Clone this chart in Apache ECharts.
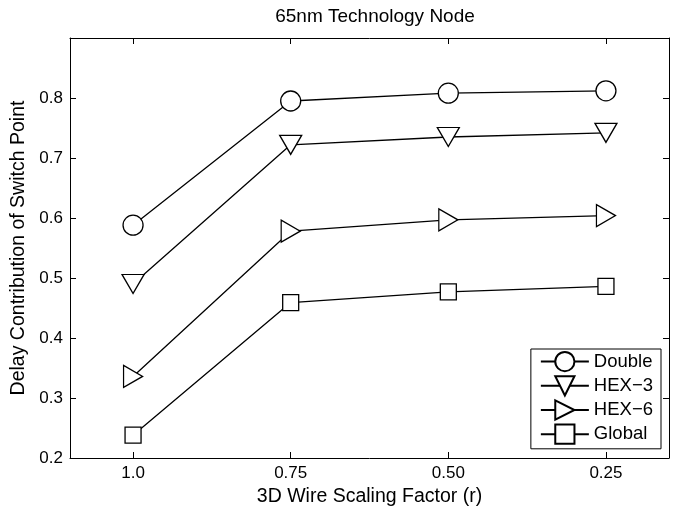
<!DOCTYPE html>
<html><head><meta charset="utf-8">
<script src="https://cdn.jsdelivr.net/npm/echarts@6/dist/echarts.min.js"></script>
<style>html,body{margin:0;padding:0;background:#fff}#c{width:678px;height:507px}</style>
</head><body><div id="c"></div>
<script>
const categories = ['1.0', '0.75', '0.50', '0.25'];
const xPositions = [1, 2, 3, 4];
const seriesNames = ['Double', 'HEX\u22123', 'HEX\u22126', 'Global'];
const doubleVals = [0.588, 0.795, 0.808, 0.812];
const hex3Vals = [0.49, 0.722, 0.735, 0.742];
const hex6Vals = [0.336, 0.578, 0.597, 0.604];
const globalVals = [0.238, 0.459, 0.477, 0.486];

const FONT = 'Liberation Sans';
const X_MIN = 0.6, X_MAX = 4.4, STEP = 0.2;
// fine grid used only to place the tick marks at the category positions
const tickGrid = [];
for (let k = 0; k <= Math.round((X_MAX - X_MIN) / STEP); k++) tickGrid.push((X_MIN + k * STEP).toFixed(1));
const isCatTick = (idx, v) => xPositions.some(p => Math.abs(Number(v) - p) < 1e-6);

const symbols = ['circle', 'path://M0,0L22,0L11,19Z', 'path://M0,0L19,11L0,22Z', 'rect'];
const sizes = [20, [22, 19], [19, 22], 16];
const allVals = [doubleVals, hex3Vals, hex6Vals, globalVals];

const series = seriesNames.map((n, i) => ({
  name: n, type: 'line', xAxisIndex: 0, yAxisIndex: 0,
  data: xPositions.map((x, j) => [x, allVals[i][j]]),
  symbol: symbols[i], symbolSize: sizes[i], showAllSymbol: true,
  lineStyle: { color: '#000', width: 1.3 },
  itemStyle: { color: '#fff', borderColor: '#000', borderWidth: 1.3 },
  emphasis: { disabled: true }, animation: false, z: 3
}));

const tickStyle = { color: '#000', width: 1 };
const lineStyle = { color: '#000', width: 1 };
const chart = echarts.init(document.getElementById('c'));
chart.setOption({
  backgroundColor: '#fff',
  animation: false,
  title: { text: '65nm Technology Node', left: 370, textAlign: 'center', top: 2,
    textStyle: { fontFamily: FONT, fontSize: 19, fontWeight: 'normal', color: '#000' } },
  grid: { left: 70, right: 9, top: 38, bottom: 49, outerBoundsMode: 'none', containLabel: false },
  legend: {
    orient: 'vertical', right: 17, top: 349,
    data: seriesNames,
    itemWidth: 48, itemHeight: 24, itemGap: 3,
    padding: [2, 8, 4, 9],
    borderColor: '#000', borderWidth: 1, backgroundColor: '#fff',
    textStyle: { fontFamily: FONT, fontSize: 18.5, color: '#000' },
    selectedMode: false
  },
  xAxis: [{
    type: 'value', min: X_MIN, max: X_MAX,
    name: '3D Wire Scaling Factor (r)', nameLocation: 'middle', nameGap: 26,
    nameTextStyle: { fontFamily: FONT, fontSize: 19.5, color: '#000' },
    axisLine: { show: true, onZero: false, lineStyle: lineStyle },
    axisTick: { show: false },
    axisLabel: { customValues: xPositions, formatter: v => categories[Math.round(v) - 1],
      fontFamily: FONT, fontSize: 17, color: '#000', margin: 7 },
    splitLine: { show: false }
  }, {
    type: 'category', data: tickGrid, boundaryGap: false, position: 'bottom',
    axisLine: { show: false },
    axisTick: { show: true, inside: true, length: 6, interval: isCatTick, lineStyle: tickStyle },
    axisLabel: { show: false }, splitLine: { show: false }
  }, {
    type: 'category', data: tickGrid, boundaryGap: false, position: 'top',
    axisLine: { show: true, onZero: false, lineStyle: lineStyle },
    axisTick: { show: true, inside: true, length: 6, interval: isCatTick, lineStyle: tickStyle },
    axisLabel: { show: false }, splitLine: { show: false }
  }],
  yAxis: [{
    type: 'value', min: 0.2, max: 0.9, interval: 0.1,
    name: 'Delay Contribution of Switch Point', nameLocation: 'middle', nameGap: 36,
    nameTextStyle: { fontFamily: FONT, fontSize: 19.5, color: '#000' },
    axisLine: { show: true, onZero: false, lineStyle: lineStyle },
    axisTick: { show: true, inside: true, length: 6, lineStyle: tickStyle },
    axisLabel: { formatter: v => (v > 0.85 ? '' : v.toFixed(1)),
      fontFamily: FONT, fontSize: 17, color: '#000', margin: 7 },
    splitLine: { show: false }
  }, {
    type: 'value', min: 0.2, max: 0.9, interval: 0.1, position: 'right',
    axisLine: { show: true, onZero: false, lineStyle: lineStyle },
    axisTick: { show: true, inside: true, length: 6, lineStyle: tickStyle },
    axisLabel: { show: false }, splitLine: { show: false }
  }],
  series: series
});
</script></body></html>
